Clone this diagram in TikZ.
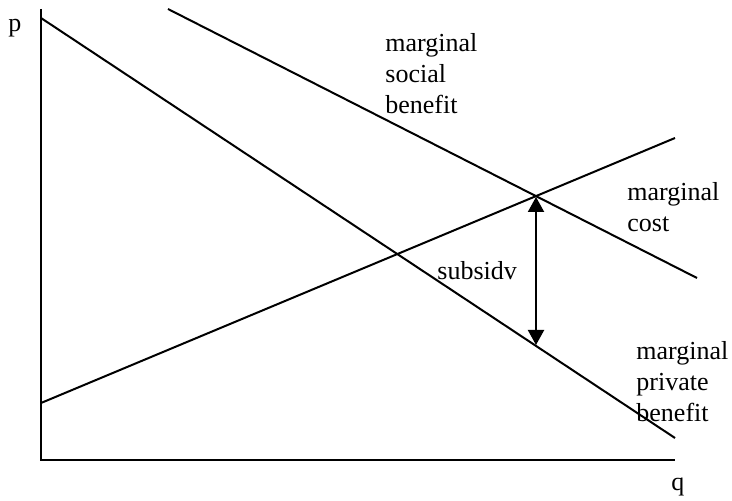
\documentclass[tikz,border=0pt]{standalone}
\usepackage{fontspec}
\setmainfont{Liberation Serif}
\usetikzlibrary{arrows.meta}

\begin{document}
\begin{tikzpicture}[x=0.5pt, y=-0.5pt,
  curve/.style={black, line width=1pt},
  gap/.style={black, line width=1pt, {Triangle[length=7.5pt,width=8pt]}-{Triangle[length=7.5pt,width=8pt]}},
  lbl/.style={font=\fontsize{13}{15.5}\selectfont, align=left, anchor=base west, inner sep=0pt}]

\useasboundingbox (0,0) rectangle (732,501);

% --- Axes ---
\coordinate (ptop) at (41,9);
\coordinate (origin) at (41,460);
\coordinate (qend) at (675,460);
\draw[curve] (ptop) -- (origin) -- (qend);
\node[lbl] (plabel) at (8,32) {p};
\node[lbl] (qlabel) at (671,490) {q};

% --- Curves ---
\coordinate (msb-start) at (168,9);
\coordinate (msb-end) at (697,278);
\draw[curve] (msb-start) -- (msb-end); % marginal social benefit

\coordinate (mpb-start) at (41,18);
\coordinate (mpb-end) at (675,438);
\draw[curve] (mpb-start) -- (mpb-end); % marginal private benefit

\coordinate (mc-start) at (41,403);
\coordinate (mc-end) at (675,138);
\draw[curve] (mc-start) -- (mc-end); % marginal cost

% --- Subsidy gap ---
\coordinate (gap-top) at (536,197);
\coordinate (gap-bottom) at (536,345);
\draw[gap] (gap-top) -- (gap-bottom);

% --- Labels (anchored on the last line) ---
\node[lbl] (msblabel) at (385,114) {marginal\\social\\benefit};
\node[lbl] (mclabel) at (627,232) {marginal\\cost};
\node[lbl] (subsidylabel) at (437,280) {subsidv};
\node[lbl] (mpblabel) at (636,422) {marginal\\private\\benefit};

\end{tikzpicture}
\end{document}
